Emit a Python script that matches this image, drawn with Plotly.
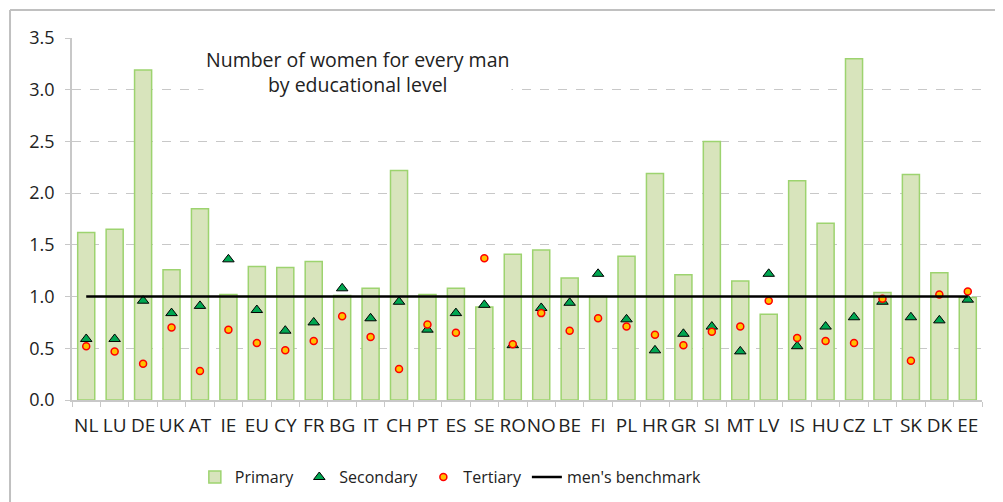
import plotly.graph_objects as go

countries = ["NL","LU","DE","UK","AT","IE","EU","CY","FR","BG","IT","CH","PT","ES","SE","RO",
             "NO","BE","FI","PL","HR","GR","SI","MT","LV","IS","HU","CZ","LT","SK","DK","EE"]
primary = [1.62,1.65,3.19,1.26,1.85,1.02,1.29,1.28,1.34,1.01,1.08,2.22,1.02,1.08,0.90,1.41,
           1.45,1.18,1.00,1.39,2.19,1.21,2.50,1.15,0.83,2.12,1.71,3.30,1.04,2.18,1.23,0.99]
secondary = [0.59,0.59,0.96,0.84,0.91,1.36,0.87,0.67,0.75,1.08,0.79,0.95,0.68,0.84,0.92,0.53,
             0.89,0.94,1.22,0.78,0.48,0.64,0.71,0.47,1.22,0.52,0.71,0.80,0.95,0.80,0.77,0.97]
tertiary = [0.52,0.47,0.35,0.70,0.28,0.68,0.55,0.48,0.57,0.81,0.61,0.30,0.73,0.65,1.37,0.54,
            0.84,0.67,0.79,0.71,0.63,0.53,0.66,0.71,0.96,0.60,0.57,0.55,0.98,0.38,1.02,1.05]
benchmark = [1.0] * len(countries)

FONT = "Open Sans"

fig = go.Figure()
fig.add_trace(go.Bar(x=countries, y=primary, name="Primary", width=0.6,
                     marker=dict(color="#d8e4bc", line=dict(color="#9dd36f", width=1.5))))
fig.add_trace(go.Scatter(x=countries, y=secondary, name="Secondary", mode="markers",
                         marker=dict(symbol="triangle-up", size=10, color="#00a651",
                                     line=dict(color="black", width=1))))
fig.add_trace(go.Scatter(x=countries, y=tertiary, name="Tertiary", mode="markers",
                         marker=dict(symbol="circle", size=7, color="#ffc000",
                                     line=dict(color="#ff0000", width=1.5))))
fig.add_trace(go.Scatter(x=countries, y=benchmark, name="men's benchmark", mode="lines",
                         line=dict(color="black", width=2.5)))

fig.update_layout(
    width=1003, height=502,
    margin=dict(l=64, r=29, t=30, b=110),
    paper_bgcolor="white", plot_bgcolor="white",
    font=dict(family=FONT, size=16, color="#222"),
    showlegend=True,
    bargap=0.4,
    legend=dict(orientation="h", x=0.135, xanchor="left", y=-0.213, yanchor="middle",
                font=dict(size=16), traceorder="normal", itemwidth=30),
    xaxis=dict(type="category", range=[-0.5, len(countries) - 0.5], showline=True,
               linecolor="#c8c8c8", linewidth=1.5,
               ticks="outside", tickson="boundaries", ticklen=5, tickcolor="#c8c8c8",
               tickfont=dict(size=19), tickangle=0, ticklabelstandoff=7,
               automargin=False, showgrid=False),
    yaxis=dict(range=[0, 3.5], dtick=0.5, tickformat=".1f", showline=True,
               linecolor="#c8c8c8", linewidth=1.5, ticks="outside", ticklen=5,
               tickcolor="#c8c8c8", gridcolor="#c8c8c8", griddash="dash", gridwidth=1,
               zeroline=False, tickfont=dict(size=18), ticklabelstandoff=7, automargin=False),
)

fig.add_annotation(text="Number of women for every man<br>by educational level",
                   xref="paper", yref="paper", x=0.314, y=0.985, xanchor="center", yanchor="top",
                   showarrow=False, bgcolor="white", font=dict(size=19.5), align="center",
                   borderpad=2)

# outer frame (top and left edges)
fig.add_shape(type="line", xref="paper", yref="paper", x0=-0.0681, x1=1.05, y0=1.0773, y1=1.0773,
              line=dict(color="#c0c0c0", width=2))
fig.add_shape(type="line", xref="paper", yref="paper", x0=-0.0681, x1=-0.0681, y0=1.0773, y1=-0.35,
              line=dict(color="#c0c0c0", width=2))

fig.write_html("out.html")
